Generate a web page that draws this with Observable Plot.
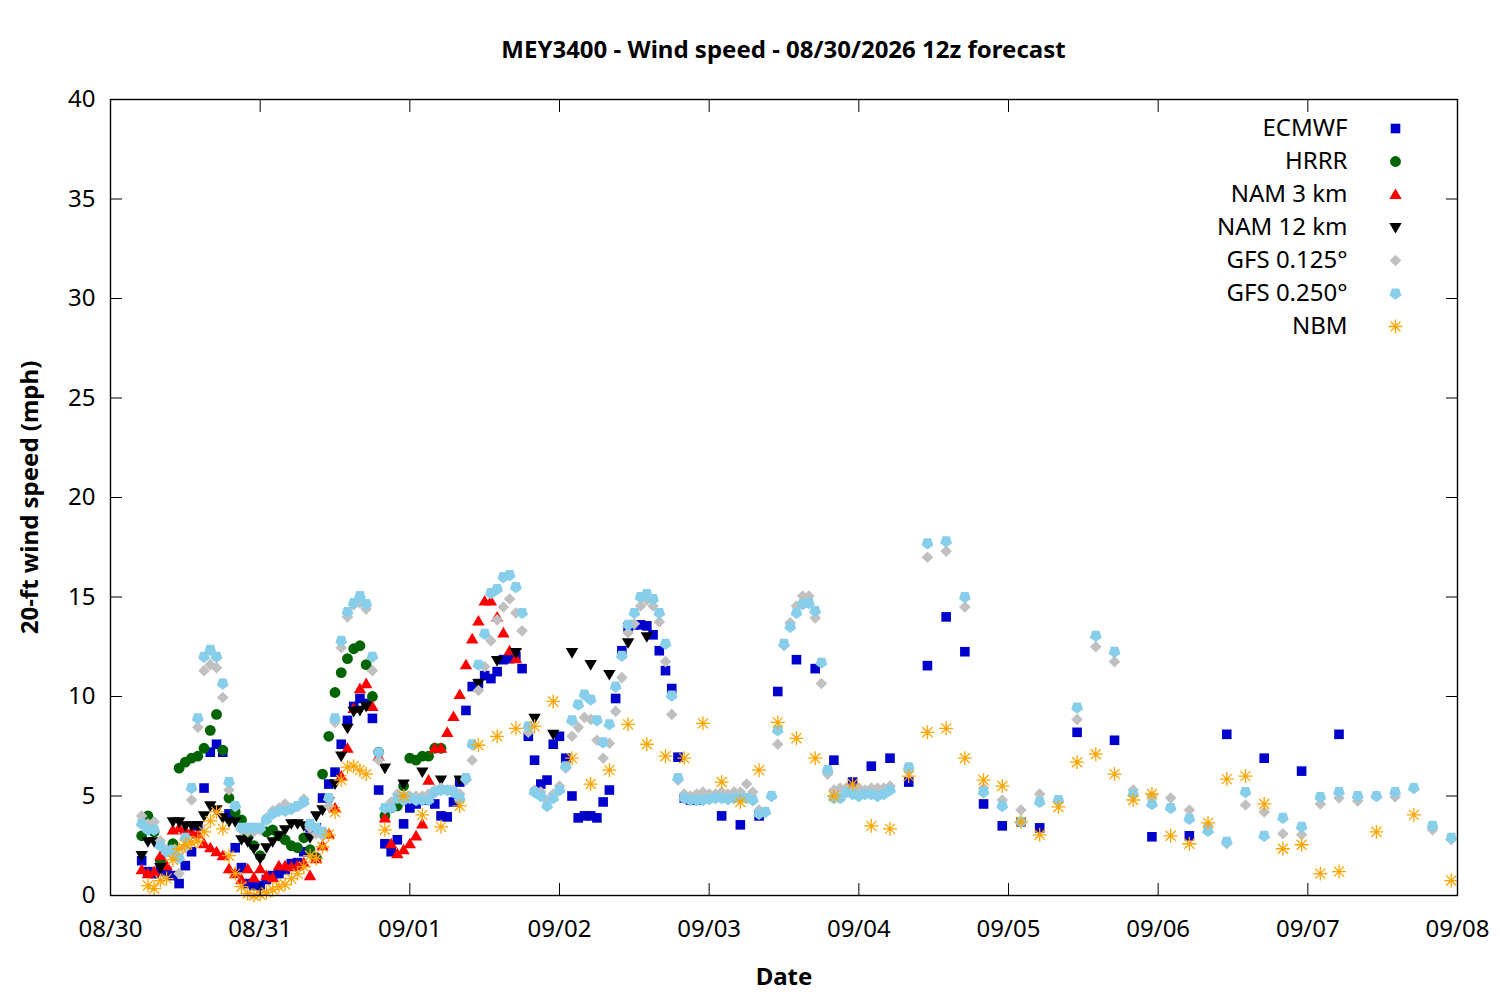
<!DOCTYPE html>
<html><head><meta charset="utf-8">
<script src="https://cdn.jsdelivr.net/npm/d3@7"></script>
<script src="https://cdn.jsdelivr.net/npm/@observablehq/plot@0.6"></script>
<style>
body{margin:0;background:#fff;font-family:"Noto Sans",sans-serif;}
#title{height:75px;box-sizing:border-box;padding-top:35px;padding-left:110px;padding-right:43px;line-height:28px;font-size:24px;font-weight:bold;text-align:center;color:#000;}
</style></head><body>
<div id="title">MEY3400 - Wind speed - 08/30/2026 12z forecast</div>
<div id="chart"></div>
<script>
// ---- tick labels ----
const yTicks = [0,5,10,15,20,25,30,35,40];
const xTickLabels = ["08/30","08/31","09/01","09/02","09/03","09/04","09/05","09/06","09/07","09/08"];
const seriesNames = ["ECMWF","HRRR","NAM 3 km","NAM 12 km","GFS 0.125°","GFS 0.250°","NBM"];

// ---- forecast hours (from 08/30 05:00 local) ----
const ecmwfHours = [0,1,2,3,4,5,6,7,8,9,10,11,12,13,14,15,16,17,18,19,20,21,22,23,24,25,26,27,28,29,30,31,32,33,34,35,36,37,38,39,40,41,42,43,44,45,46,47,48,49,50,51,52,53,54,55,56,57,58,59,60,61,62,63,64,65,66,67,68,69,70,71,72,73,74,75,76,77,78,79,80,81,82,83,84,85,86,87,88,89,90,93,96,99,102,105,108,111,114,117,120,123,126,129,132,135,138,141,144,150,156,162,168,174,180,186,192];
const hrrrHours = [0,1,2,3,4,5,6,7,8,9,10,11,12,13,14,15,16,17,18,19,20,21,22,23,24,25,26,27,28,29,30,31,32,33,34,35,36,37,38,39,40,41,42,43,44,45,46,47,48];
const nam3Hours = [0,1,2,3,4,5,6,7,8,9,10,11,12,13,14,15,16,17,18,19,20,21,22,23,24,25,26,27,28,29,30,31,32,33,34,35,36,37,38,39,40,41,42,43,44,45,46,47,48,49,50,51,52,53,54,55,56,57,58,59,60];
const nam12Hours = [0,1,2,3,4,5,6,7,8,9,10,11,12,13,14,15,16,17,18,19,20,21,22,23,24,25,26,27,28,29,30,31,32,33,34,35,36,39,42,45,48,51,54,57,60,63,66,69,72,75,78,81];
const gfsHours = [0,1,2,3,4,5,6,7,8,9,10,11,12,13,14,15,16,17,18,19,20,21,22,23,24,25,26,27,28,29,30,31,32,33,34,35,36,37,38,39,40,41,42,43,44,45,46,47,48,49,50,51,52,53,54,55,56,57,58,59,60,61,62,63,64,65,66,67,68,69,70,71,72,73,74,75,76,77,78,79,80,81,82,83,84,85,86,87,88,89,90,91,92,93,94,95,96,97,98,99,100,101,102,103,104,105,106,107,108,109,110,111,112,113,114,115,116,117,118,119,120,123,126,129,132,135,138,141,144,147,150,153,156,159,162,165,168,171,174,177,180,183,186,189,192,195,198,201,204,207,210];
const nbmHours = [1,2,3,4,5,6,7,8,9,10,11,12,13,14,15,16,17,18,19,20,21,22,23,24,25,26,27,28,29,30,31,32,33,34,35,36,39,42,45,48,51,54,57,60,63,66,69,72,75,78,81,84,87,90,93,96,99,102,105,108,111,114,117,120,123,126,129,132,135,138,141,144,147,150,153,156,159,162,165,168,171,174,177,180,183,186,189,192,198,204,210];

// ---- wind speed values (mph) ----
const ecmwfValues = [1.75,1.2,1.1,1.25,1.2,1.0,0.6,1.5,2.2,3.5,
 5.4,7.2,7.6,7.2,4.1,2.4,1.4,0.6,0.5,0.5,
 0.8,1.0,1.1,1.3,1.6,1.65,2.2,3.4,3.4,4.9,
 5.6,6.2,7.6,8.8,9.5,9.9,9.65,8.9,5.3,2.6,
 2.2,2.8,3.6,4.4,4.6,4.8,4.8,4.6,4.0,3.95,
 4.7,5.7,9.3,10.5,10.65,11.05,10.9,11.25,11.85,11.9,
 12.0,11.4,8.0,6.8,5.6,5.8,7.6,8.0,6.9,5.0,
 3.9,4.0,4.0,3.9,4.7,5.3,9.9,12.3,13.5,13.6,
 13.6,13.55,13.1,12.3,11.3,10.4,6.95,4.9,4.8,4.8,
 4.9,
 4.0,3.55,4.0,10.25,11.85,11.4,6.8,5.7,6.5,6.9,5.7,11.55,14.0,12.25,4.6,3.5,3.7,3.4,
 8.2,7.8,2.95,3.0,8.1,6.9,6.25,8.1];
const hrrrValues = [3.0,4.0,3.2,1.75,2.2,2.6,6.4,6.7,6.9,7.0,
 7.4,8.3,9.1,7.3,4.9,4.2,3.8,3.0,2.5,2.0,
 3.2,3.3,3.0,2.8,2.5,2.4,2.9,2.3,1.9,6.1,
 8.0,10.2,11.2,11.9,12.4,12.55,11.6,10.0,7.2,4.0,
 4.4,4.5,5.5,6.9,6.8,7.0,7.0,7.4,7.4];
const nam3Values = [1.3,1.1,1.2,2.0,1.5,3.3,3.4,3.3,3.2,3.1,
 2.6,2.4,2.2,2.0,1.35,1.1,0.8,1.35,0.9,1.35,
 1.0,0.9,1.5,1.5,1.45,1.5,1.65,1.0,1.85,2.5,
 3.1,4.4,6.0,7.4,9.4,10.4,10.65,9.5,7.0,3.9,
 2.6,2.1,2.3,2.6,3.0,3.6,5.8,7.4,7.4,8.2,
 9.0,10.1,11.6,12.9,13.8,14.8,14.8,14.0,13.2,12.3,
 11.9];
const nam12Values = [2.0,2.7,2.7,1.4,2.2,3.7,3.7,3.5,3.5,3.5,
 4.0,4.5,4.3,3.9,3.7,3.7,2.8,2.7,2.35,1.85,
 2.4,2.7,3.0,3.3,3.6,3.6,3.5,2.9,4.0,4.3,
 4.7,5.6,7.0,8.4,9.25,9.3,9.5,
 6.4,5.6,6.2,5.8,5.8,10.65,11.8,12.2,8.9,8.1,12.2,11.6,11.1,12.7,13.0];
const gfs0125Values = [4.0,3.6,3.7,2.75,2.3,2.0,1.1,2.4,4.8,8.45,
 11.3,11.6,11.45,9.95,5.3,4.5,3.3,3.2,3.2,3.3,
 3.9,4.25,4.4,4.6,4.4,4.5,4.85,3.4,3.1,3.0,
 4.5,8.7,12.45,14.0,14.6,14.7,14.4,11.3,6.8,4.4,
 4.7,5.1,5.0,5.0,5.0,5.0,5.1,5.3,5.4,5.3,
 5.3,5.1,5.8,6.8,10.3,11.5,12.8,13.85,14.5,14.9,
 14.2,13.3,8.2,5.3,5.2,4.8,5.1,5.5,6.4,8.0,
 8.45,8.95,8.85,7.8,6.9,7.65,9.25,10.95,13.2,13.65,
 14.55,14.85,14.55,13.75,11.75,9.1,5.8,5.1,5.0,5.1,
 5.2,5.1,5.1,5.2,5.1,5.2,5.2,5.6,5.2,4.3,
 4.2,5.0,7.6,12.55,13.7,14.55,15.05,15.05,13.95,10.65,
 6.1,5.3,5.4,5.4,5.3,5.4,5.3,5.4,5.4,5.4,
 5.5,
 6.3,17.0,17.3,14.5,5.4,4.8,4.3,5.1,4.7,8.85,12.5,11.75,5.3,5.0,4.9,4.3,3.5,2.6,4.55,4.2,3.1,3.05,4.6,4.9,4.75,5.0,4.95,5.4,3.3,2.8];
const gfs0250Values = [3.6,3.3,3.3,2.5,2.2,2.3,1.9,2.9,5.4,8.9,
 12.0,12.35,12.0,10.65,5.7,4.5,3.4,3.4,3.4,3.4,
 3.8,4.1,4.25,4.25,4.35,4.5,4.7,3.6,3.4,3.2,
 4.9,8.9,12.8,14.25,14.7,15.05,14.65,12.0,7.2,4.4,
 4.4,4.9,4.8,4.9,4.8,4.8,4.8,5.2,5.3,5.3,
 5.2,4.9,5.9,7.6,11.6,13.15,15.2,15.4,16.0,16.1,
 15.5,14.2,8.5,5.2,5.0,4.5,4.9,5.3,6.5,8.8,
 9.6,10.1,9.85,8.8,7.7,8.6,10.5,12.05,13.6,14.2,
 15.0,15.15,14.9,14.2,12.65,10.05,5.9,4.9,4.8,4.8,
 4.8,4.85,4.9,4.9,4.85,4.9,4.9,4.9,4.8,4.1,
 4.2,5.0,8.3,12.65,13.5,14.2,14.65,14.7,14.3,11.7,
 6.3,4.9,4.9,5.2,5.1,5.0,5.1,5.1,5.0,5.1,
 5.3,
 6.45,17.7,17.8,15.0,5.2,4.5,3.7,4.7,4.8,9.45,13.05,12.25,5.1,4.6,4.4,3.85,3.25,2.7,5.2,3.0,3.9,3.45,4.95,5.2,5.0,5.0,5.2,5.4,3.5,2.9];
const nbmValues = [0.5,0.35,0.75,0.85,1.8,2.35,2.55,2.65,2.75,3.2,
 3.75,4.2,3.35,2.0,1.1,0.45,0.1,0.0,0.05,0.15,
 0.3,0.45,0.55,0.85,1.1,1.45,2.0,1.85,2.45,3.05,
 4.2,5.8,6.45,6.5,6.3,6.1,
 3.3,5.0,4.05,3.45,4.5,7.55,8.0,8.4,8.5,9.75,
 6.9,5.6,6.3,8.6,7.6,7.0,6.9,8.65,5.7,4.7,
 6.3,8.7,7.9,6.9,5.0,5.6,3.5,3.35,6.0,8.2,
 8.4,6.9,5.8,5.5,3.7,3.05,4.45,6.7,7.1,6.1,
 4.8,5.1,3.0,2.6,3.65,5.85,6.0,4.6,2.35,2.55,
 1.1,1.2,
 3.2,4.05,0.75];

// ---- build ----
const start = Date.UTC(2026,7,30,5);
const toDate = h => new Date(start + h*3600e3);
const rows = (hours, values) => hours.map((h,i) => ({t: toDate(h), v: values[i]}));
const xTicks = xTickLabels.map(s => { const [m,d] = s.split("/").map(Number); return new Date(Date.UTC(2026, m-1, d)); });

const sqSym = {draw(c){ const s=4.8; c.moveTo(-s,-s); c.lineTo(s,-s); c.lineTo(s,s); c.lineTo(-s,s); c.closePath(); }};
const circSym = {draw(c){ c.moveTo(5.4,0); c.arc(0,0,5.4,0,2*Math.PI); }};
const triUp = {draw(c){ c.moveTo(0,-6); c.lineTo(6.2,4.6); c.lineTo(-6.2,4.6); c.closePath(); }};
const triDown = {draw(c){ c.moveTo(0,6); c.lineTo(6.2,-4.6); c.lineTo(-6.2,-4.6); c.closePath(); }};
const diamondSym = {draw(c){ const s=5.8; c.moveTo(0,-s); c.lineTo(s,0); c.lineTo(0,s); c.lineTo(-s,0); c.closePath(); }};
const pentSym = {draw(c){ const R=6.2; for(let k=0;k<5;k++){ const a=Math.PI/2+k*2*Math.PI/5; const x=R*Math.cos(a), y=R*Math.sin(a); if(k) c.lineTo(x,y); else c.moveTo(x,y);} c.closePath(); }};
const starSym = {draw(c){ const a=7, b=5; c.moveTo(-a,0); c.lineTo(a,0); c.moveTo(0,-a); c.lineTo(0,a); c.moveTo(-b,-b); c.lineTo(b,b); c.moveTo(-b,b); c.lineTo(b,-b); }};

const series = [
  {name: seriesNames[0], data: rows(ecmwfHours, ecmwfValues), symbol: sqSym, color: "#0000cc", filled: true},
  {name: seriesNames[1], data: rows(hrrrHours, hrrrValues), symbol: circSym, color: "#006400", filled: true},
  {name: seriesNames[2], data: rows(nam3Hours, nam3Values), symbol: triUp, color: "#ff0000", filled: true},
  {name: seriesNames[3], data: rows(nam12Hours, nam12Values), symbol: triDown, color: "#000000", filled: true},
  {name: seriesNames[4], data: rows(gfsHours, gfs0125Values), symbol: diamondSym, color: "#c0c0c0", filled: true},
  {name: seriesNames[5], data: rows(gfsHours, gfs0250Values), symbol: pentSym, color: "#87ceeb", filled: true},
  {name: seriesNames[6], data: rows(nbmHours, nbmValues), symbol: starSym, color: "#ffa500", filled: false}
];

const marks = [];
for (const s of series) {
  marks.push(Plot.dot(s.data, {x: "t", y: "v", symbol: s.symbol,
    fill: s.filled ? s.color : "none", stroke: s.filled ? "none" : s.color, strokeWidth: 1.3}));
}
series.forEach((s, i) => {
  marks.push(Plot.dot([s.name], {x: null, y: null, frameAnchor: "top-right", dx: -62, dy: 29 + 33*i,
    symbol: s.symbol, fill: s.filled ? s.color : "none", stroke: s.filled ? "none" : s.color, strokeWidth: 1.3}));
  marks.push(Plot.text([s.name], {x: null, y: null, text: d => d, frameAnchor: "top-right", dx: -110, dy: 29 + 33*i,
    textAnchor: "end", lineAnchor: "middle", fontSize: 24, fill: "black"}));
});

marks.push(
  Plot.axisY({anchor: "left", ticks: yTicks, tickSize: -12, tickPadding: 27, fontSize: 24, tickFormat: d => String(d), label: null, stroke: "black", fill: "black"}),
  Plot.axisY({anchor: "right", ticks: yTicks, tickSize: -12, tickFormat: () => "", label: null, stroke: "black"}),
  Plot.axisX({anchor: "bottom", ticks: xTicks, tickSize: -12, tickPadding: 36, fontSize: 24, tickFormat: (d, i) => xTickLabels[i], label: null, stroke: "black", fill: "black"}),
  Plot.axisX({anchor: "top", ticks: xTicks, tickSize: -12, tickFormat: () => "", label: null, stroke: "black"}),
  Plot.frame({stroke: "black", strokeWidth: 1.4}),
  Plot.text(["20-ft wind speed (mph)"], {x: null, y: null, text: d => d, frameAnchor: "left", dx: -80, rotate: -90, textAnchor: "middle", lineAnchor: "middle", fontWeight: "bold", fontSize: 24, fill: "black"}),
  Plot.text(["Date"], {x: null, y: null, text: d => d, frameAnchor: "bottom", dy: 82, textAnchor: "middle", lineAnchor: "middle", fontWeight: "bold", fontSize: 24, fill: "black"})
);

const chart = Plot.plot({
  width: 1500, height: 925,
  marginTop: 24, marginBottom: 105, marginLeft: 110, marginRight: 43,
  x: {type: "utc", domain: [xTicks[0], xTicks[xTicks.length-1]]},
  y: {domain: [0, 40]},
  style: {fontFamily: "Noto Sans", fontSize: "24px", background: "white", color: "black", overflow: "visible"},
  marks
});
document.getElementById("chart").appendChild(chart);
</script></body></html>
